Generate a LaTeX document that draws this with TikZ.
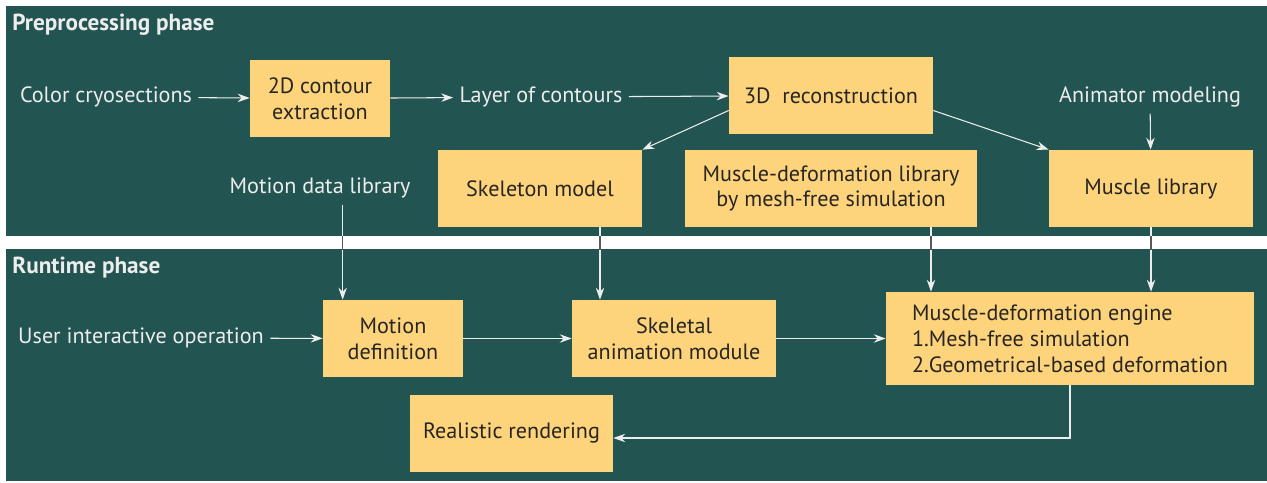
\documentclass[tikz,border=0pt]{standalone}
\usepackage{fontspec}
\setmainfont{PT Sans}
\usetikzlibrary{calc,positioning,arrows.meta}
\definecolor{panelgreen}{RGB}{34,84,81}
\definecolor{boxyellow}{RGB}{253,211,124}
\definecolor{inkdark}{RGB}{40,38,34}
\tikzset{
  box/.style={fill=boxyellow,text=inkdark,align=center,font=\fontsize{12.6}{14.7}\selectfont,
              minimum height=1.54cm,inner sep=2pt},
  lbl/.style={text=white!93!black,font=\fontsize{12.6}{14.7}\selectfont,inner sep=3.5pt},
  ttl/.style={text=white!93!black,font=\bfseries\fontsize{13.2}{15}\selectfont,anchor=west,inner sep=0pt},
  arr/.style={-{Stealth[length=2.4mm,width=1.7mm,inset=0.8mm]},line width=0.6pt,white!93!black},
  gapline/.style={line width=0.6pt,black!65}
}

\begin{document}
\begin{tikzpicture}[x=0.02cm,y=-0.02cm]
  \useasboundingbox (0,0) rectangle (1267,483);
  % panels
  \fill[panelgreen] (6,6) rectangle (1267,236);
  \fill[panelgreen] (6,249) rectangle (1267,481);
  \node[ttl] (pre) at (12,25)  {Preprocessing phase};
  \node[ttl] (run) at (12,268) {Runtime phase};
  % preprocessing phase
  \node[lbl] (cryo)  at (106,97)  {Color cryosections};
  \node[box,minimum width=2.8cm] (ext) at (320,98.5) {2D contour\\extraction};
  \node[lbl] (layer) at (541,97)  {Layer of contours};
  \node[box,minimum width=4.08cm] (recon) at (831,95.5) {3D\ \ reconstruction};
  \node[lbl] (anmod) at (1150,97) {Animator modeling};
  \node[box,minimum width=4.08cm] (skel)  at (540,188.5)  {Skeleton model};
  \node[box,minimum width=5.84cm] (mdlib) at (831,188.5)  {Muscle-deformation library\\by mesh-free simulation};
  \node[box,minimum width=4.08cm] (mlib)  at (1151,188.5) {Muscle library};
  \node[lbl] (mdata) at (320,188) {Motion data library};
  \draw[arr] (cryo)--(ext); \draw[arr] (ext)--(layer); \draw[arr] (layer)--(recon);
  \draw[arr] ([yshift=-0.3cm]recon.west) -- (skel.north east);
  \draw[arr] ([yshift=-0.3cm]recon.east) -- (mlib.north west);
  \draw[arr] (anmod) -- (mlib);
  % runtime phase
  \node[lbl] (user)   at (141,338) {User interactive operation};
  \node[box,minimum width=2.8cm]  (motdef) at (393,338.5) {Motion\\definition};
  \node[box,minimum width=4.08cm] (anim)   at (674,338.5) {Skeletal\\animation module};
  \node[box,minimum width=7.36cm,minimum height=1.86cm,align=left] (engine) at (1070,338.5)
    {Muscle-deformation engine\\1.Mesh-free simulation\\2.Geometrical-based deformation};
  \node[box,minimum width=4.06cm] (render) at (511.5,433.5) {Realistic rendering};
  \draw[arr] (user)--(motdef); \draw[arr] (motdef)--(anim); \draw[arr] (anim)--(engine);
  \draw[arr] (engine.south) |- ([yshift=-0.09cm]render.east);
  % across the two phases
  \coordinate (mdin)  at ([xshift=0.4cm]motdef.north west);
  \coordinate (skout) at ([xshift=1.2cm]skel.south);
  \coordinate (mdout) at ([xshift=2cm]mdlib.south);
  \draw[arr] (mdata.south -| mdin) -- (mdin);
  \draw[arr] (skout) -- (skout |- anim.north);
  \draw[arr] (mdout) -- (mdout |- engine.north);
  \draw[arr] (mlib.south) -- (mlib.south |- engine.north);
  \begin{scope}
    \clip (0,236) rectangle (1267,249);
    \draw[gapline] (mdata.south -| mdin) -- (mdin);
    \draw[gapline] (skout) -- (skout |- anim.north);
    \draw[gapline] (mdout) -- (mdout |- engine.north);
    \draw[gapline] (mlib.south) -- (mlib.south |- engine.north);
  \end{scope}
\end{tikzpicture}
\end{document}
